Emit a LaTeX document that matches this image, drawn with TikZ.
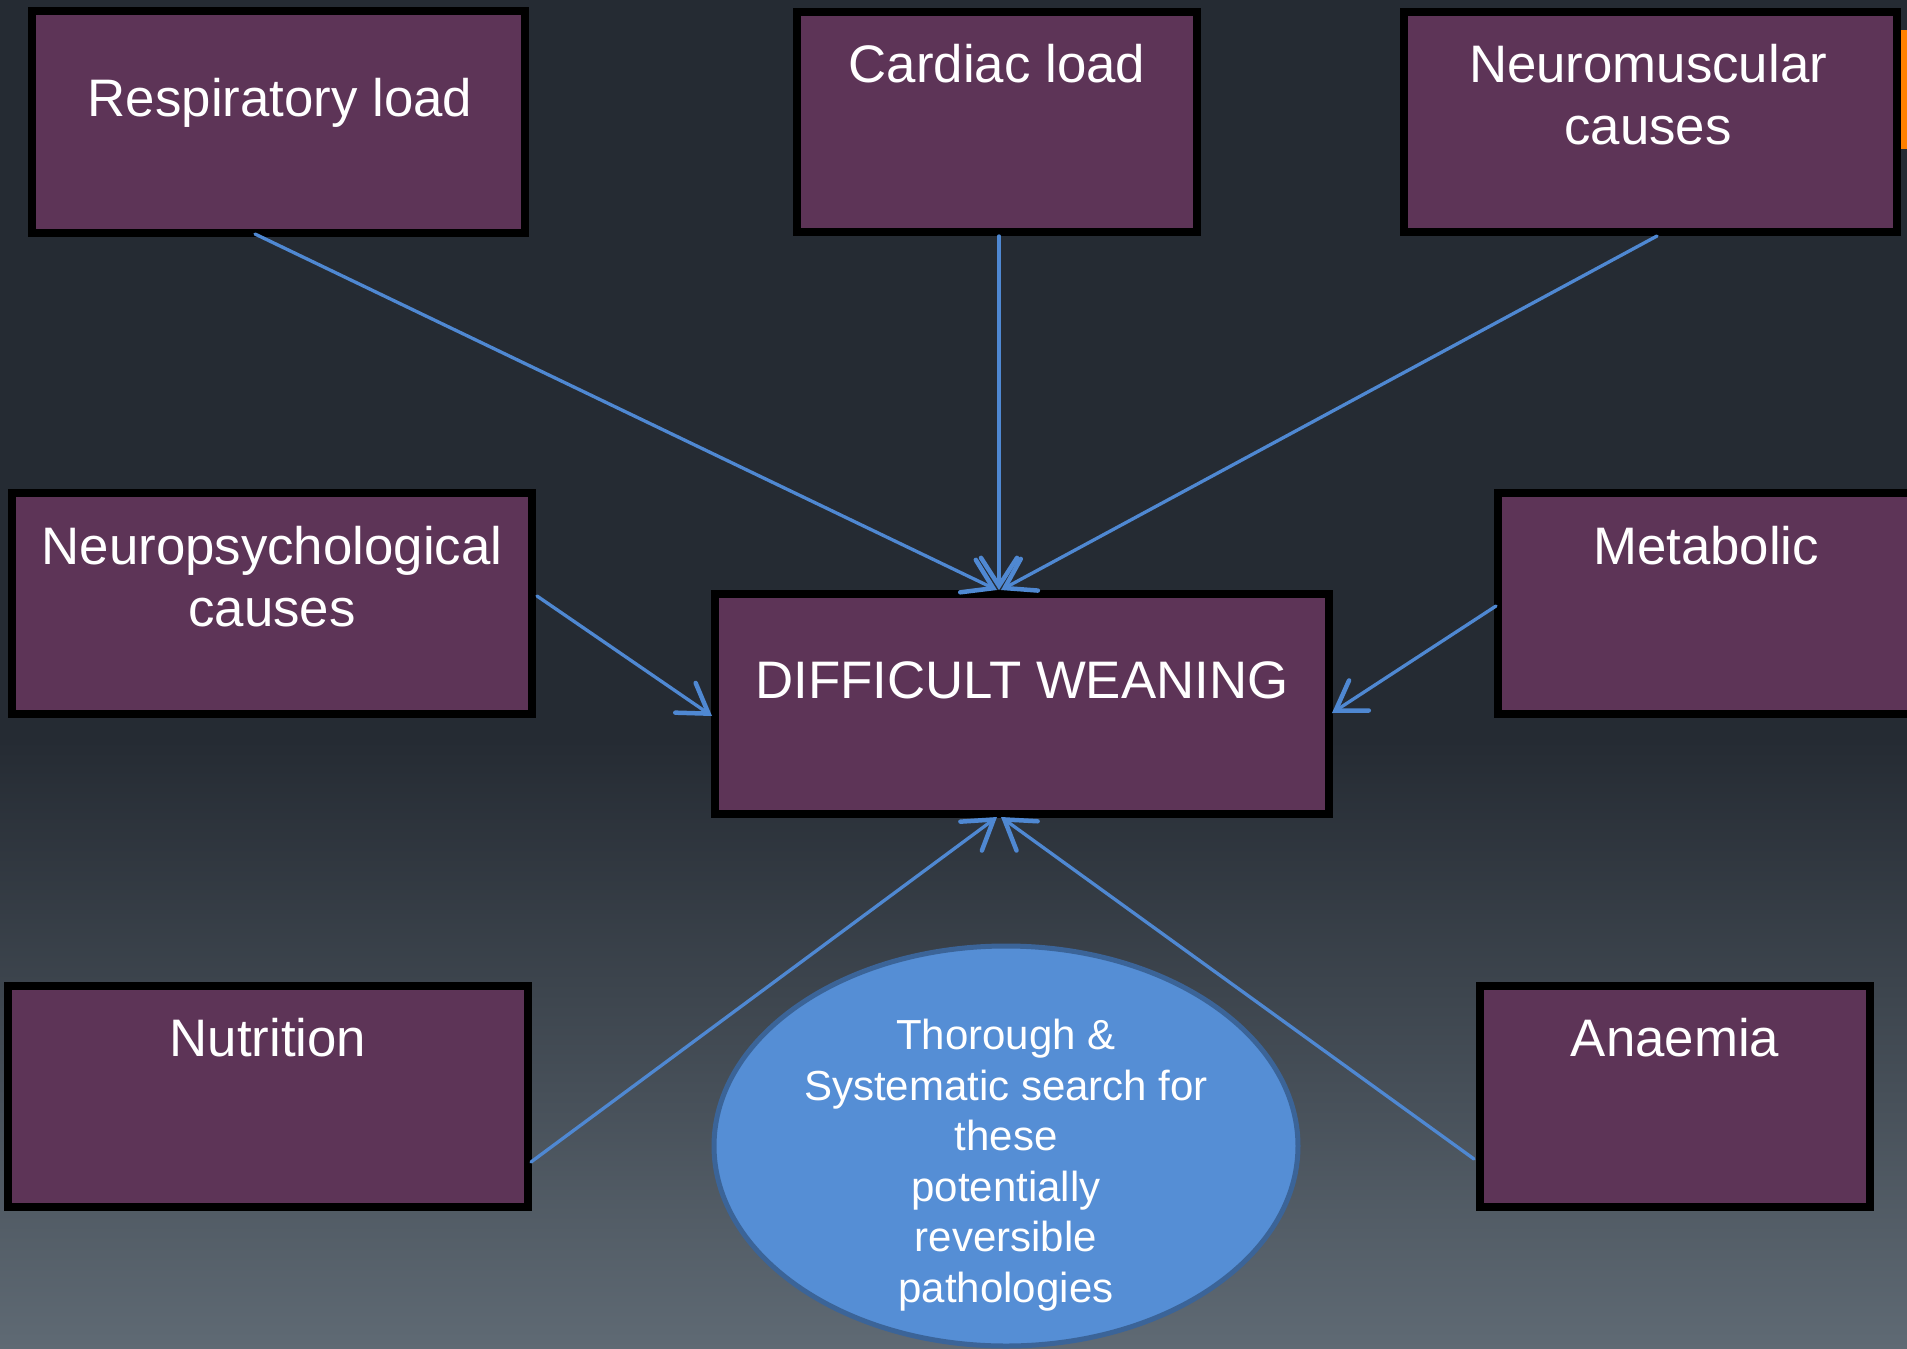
\documentclass[tikz,border=0pt]{standalone}
\usepackage{fontspec}
\setmainfont{Liberation Sans}
\usetikzlibrary{arrows.meta,shapes.geometric}
\definecolor{bgtop}{HTML}{252B33}
\definecolor{bgbot}{HTML}{5F6A74}
\definecolor{boxfill}{HTML}{5D3457}
\definecolor{arrowblue}{HTML}{4F88D2}
\definecolor{ellfill}{HTML}{558ED5}
\definecolor{elldraw}{HTML}{3B6498}
\definecolor{orangebar}{HTML}{FF8000}
\begin{document}
\begin{tikzpicture}[x=1pt,y=-1pt,
  causebox/.style={draw=black,line width=8.5pt,fill=boxfill,rectangle,inner sep=0pt,outer sep=0pt},
  boxtext/.style={text=white,font=\fontsize{52.8}{62.5}\selectfont,align=center,anchor=base,inner sep=0pt},
  elltext/.style={text=white,font=\fontsize{42}{50.5}\selectfont,align=center,anchor=base,inner sep=0pt},
  conn/.style={draw=arrowblue,line width=3.3pt,line cap=round,-{Straight Barb[length=28pt,width=36pt,line width=4.5pt,line cap=round]}},
  ]
\useasboundingbox (0,0) rectangle (1907,1349);
% background
\fill[bgtop] (0,0) rectangle (1907,1349);
\shade[top color=bgtop,bottom color=bgbot] (0,740) rectangle (1907,1349);
\fill[orangebar] (1900,30) rectangle (1907,149);
% boxes
\node[causebox,minimum width=493pt,minimum height=222pt] (resp) at (278.5,122) {};
\node[causebox,minimum width=400pt,minimum height=220pt] (card) at (997,122) {};
\node[causebox,minimum width=493pt,minimum height=220pt] (neuro) at (1650.5,122) {};
\node[causebox,minimum width=520pt,minimum height=221pt] (psych) at (272,603.5) {};
\node[causebox,minimum width=614pt,minimum height=220pt] (dw) at (1022,704) {};
\node[causebox,minimum width=416pt,minimum height=221pt] (metab) at (1706,603.5) {};
\node[causebox,minimum width=520pt,minimum height=221pt] (nutr) at (268,1096.5) {};
\node[causebox,minimum width=390pt,minimum height=221pt] (anaem) at (1675,1096.5) {};
\node[ellipse,draw=elldraw,line width=5pt,fill=ellfill,minimum width=584pt,minimum height=400pt,inner sep=0pt] (search) at (1006,1146) {};
% texts (base anchor = baseline of the last line)
\node[boxtext] (tresp) at (280,116) {Respiratory load};
\node[boxtext] (tcard) at (997,82) {Cardiac load};
\node[boxtext] (tneuro) at (1648,144.5) {Neuromuscular\\causes};
\node[boxtext] (tpsych) at (272,626.5) {Neuropsychological\\causes};
\node[boxtext] (tdw) at (1022,698) {DIFFICULT WEANING};
\node[boxtext] (tmetab) at (1706,564) {Metabolic};
\node[boxtext] (tnutr) at (268,1056) {Nutrition};
\node[boxtext] (tanaem) at (1675,1056) {Anaemia};
\node[elltext] (tsearch) at (1006,1302) {Thorough \&\\Systematic search for\\these\\potentially\\reversible\\pathologies};
% connector ends
\coordinate (respout) at (255,234);
\coordinate (cardout) at (999,236);
\coordinate (neuroout) at (1657,236);
\coordinate (psychout) at (537,596);
\coordinate (metabout) at (1496,606);
\coordinate (nutrout) at (531,1162);
\coordinate (anaemout) at (1474,1159);
\coordinate (dwtopa) at (997,590);
\coordinate (dwtopb) at (999,590);
\coordinate (dwtopc) at (1001,590);
\coordinate (dwleft) at (712,716);
\coordinate (dwright) at (1332,713);
\coordinate (dwbota) at (997,817);
\coordinate (dwbotb) at (1001,817);
% connectors
\draw[conn] (respout) -- (dwtopa);
\draw[conn] (cardout) -- (dwtopb);
\draw[conn] (neuroout) -- (dwtopc);
\draw[conn] (psychout) -- (dwleft);
\draw[conn] (metabout) -- (dwright);
\draw[conn] (nutrout) -- (dwbota);
\draw[conn] (anaemout) -- (dwbotb);
\end{tikzpicture}
\end{document}
